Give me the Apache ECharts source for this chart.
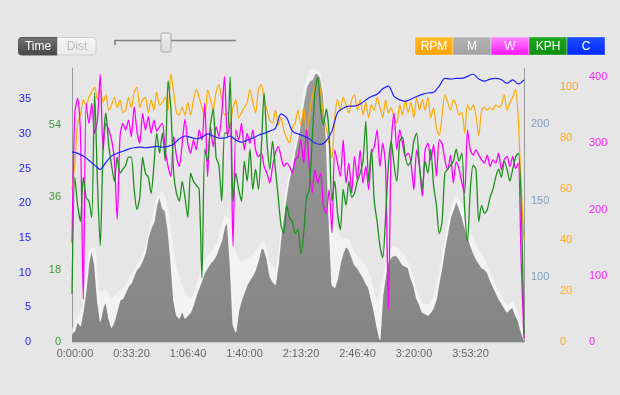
<!DOCTYPE html>
<html><head><meta charset="utf-8">
<script src="https://cdn.jsdelivr.net/npm/echarts@6/dist/echarts.min.js"></script>
<style>html,body{margin:0;padding:0;background:#e6e6e6;}#c{width:620px;height:395px;}</style>
</head><body><div id="c"></div>
<script>
// ---- data (sampled every STEP seconds; C and the light envelope every STEP_COARSE seconds) ----
const STEP = 100;
const STEP_COARSE = 200;
const legendNames = ['RPM', 'M', 'W', 'KPH', 'C'];
const xTickStep = 2000;      // 0:33:20
const xMax = 16000;

const elevation = [63,65,71,68,78,92,110,118,108,85,
 71,80,84,73,67,71,78,85,86,90,
 94,96,101,105,107,111,116,126,132,136,
 147,153,145,143,131,110,85,75,73,78,
 73,75,77,82,88,93,98,103,106,109,
 111,114,119,124,133,136,108,69,64,78,
 85,90,95,98,101,105,111,119,118,112,
 101,97,95,108,127,141,154,165,172,183,
 191,201,214,224,228,229,233,233,230,219,
 190,137,95,93,99,109,116,120,118,113,
 108,106,103,100,96,93,85,77,67,59,
 88,101,110,113,114,114,111,108,107,106,
 99,94,86,82,77,76,75,77,80,86,
 97,107,119,129,139,144,150,145,140,133,
 127,121,116,112,109,106,105,103,98,94,
 90,86,83,80,77,79,80,75,71,64,
 59];

const elevationUpper = [66,74,82,117,120,90,92,86,90,93,
 98,105,111,120,136,152,156,145,118,100,
 90,86,95,108,114,118,126,140,138,116,
 110,112,115,120,124,110,105,133,160,178,
 197,222,235,236,234,200,142,129,125,125,
 116,112,107,99,84,100,117,120,118,114,
 106,92,83,82,88,104,126,145,153,148,
 137,126,118,112,104,95,88,82,84,76,
 62];

const rpm = [60,70,86,89,95,93,96,98,100,95,
 99,94,97,91,93,96,92,95,90,91,
 96,92,98,100,92,95,96,90,95,91,
 98,93,94,96,91,105,98,90,89,92,
 89,94,89,95,99,96,92,88,99,95,
 91,98,101,95,89,90,85,92,95,88,
 90,92,94,99,94,90,99,101,95,91,
 87,86,91,85,88,83,80,78,84,86,
 91,85,92,82,89,96,100,103,98,89,
 84,78,72,88,95,91,96,93,90,95,
 97,91,95,89,94,88,93,91,96,92,
 88,95,90,92,88,86,93,89,95,90,
 94,88,96,91,95,91,96,88,92,84,
 81,89,97,94,91,95,93,89,90,82,
 93,91,93,89,81,91,92,91,92,91,
 93,92,93,97,91,94,96,99,87,60,
 40];

const watts = [150,345,368,315,65,360,330,360,315,335,
 404,290,330,320,305,275,185,310,330,320,
 335,310,355,318,300,345,320,340,315,335,
 318,325,330,290,265,250,310,280,265,300,
 336,300,285,305,290,320,305,360,250,325,
 295,325,310,345,401,310,330,145,320,305,
 330,290,315,300,320,290,280,285,265,255,
 240,265,285,295,280,265,270,265,255,275,
 280,305,270,320,265,225,260,240,255,205,
 195,230,165,290,270,250,305,240,270,225,
 280,245,290,240,265,230,285,295,320,265,
 300,265,50,300,345,290,320,300,280,285,
 270,230,290,265,220,290,300,275,298,250,
 305,300,275,260,282,240,272,262,240,225,
 320,290,282,290,282,275,270,282,265,275,
 270,285,260,275,280,265,280,262,270,120,
 5];

const kph = [12,41,34,30,41,36,35,31,62,40,
 24,48,57,49,44,40,46,42,43,44,
 46,46,38,33,36,46,42,41,37,44,
 52,47,52,45,65,58,42,37,35,40,
 36,31,42,40,39,38,16,48,45,54,
 58,46,44,35,52,52,66,35,42,38,
 35,45,40,48,38,43,38,48,62,50,
 43,50,43,36,29,27,34,31,30,27,
 28,22,27,36,38,50,62,66,58,54,
 58,52,35,40,32,28,38,34,40,36,
 37,40,42,45,55,40,48,35,30,24,
 21,31,44,50,44,40,50,51,46,44,
 45,50,52,44,38,45,42,48,39,34,
 27,30,42,43,44,45,48,45,47,33,
 25,38,44,43,30,34,32,33,36,38,
 41,43,41,45,43,40,43,46,47,35,
 2];

const cVals = [27.4,27.2,26.8,26.2,25.5,24.9,25.9,26.8,27.2,27.5,
 27.8,28.0,28.1,28.0,28.1,28.2,28.1,28.2,28.5,29.3,
 29.7,29.5,29.3,29.5,30.0,29.7,29.4,29.4,29.7,29.1,
 28.8,29.1,29.4,29.8,30.1,30.4,30.8,32.9,32.3,30.4,
 30.0,29.7,29.3,28.7,28.5,29.0,30.4,33.1,33.7,34.0,
 34.0,34.3,34.9,35.4,35.7,36.5,36.9,35.4,34.9,34.7,
 35.0,35.4,35.7,35.9,36.0,36.9,38.0,37.9,38.0,38.0,
 38.3,38.6,37.9,37.6,37.9,38.0,37.8,37.3,37.8,37.2,
 37.8];

// ---- helpers ----
const pairs = (arr, step) => arr.map((v, i) => [i * step, v]);
const hms = s => { const h = Math.floor(s / 3600), m = Math.floor((s % 3600) / 60), sec = Math.round(s % 60);
  return h + ':' + String(m).padStart(2, '0') + ':' + String(sec).padStart(2, '0'); };
const FONT = '"Liberation Sans", Arial, Helvetica, sans-serif';
function yAx(pos, offset, min, max, interval, labelStep, color, line, align, margin) {
  return {
    type: 'value', position: pos, offset: offset, min: min, max: max, interval: interval,
    axisLine: { show: line, onZero: false, lineStyle: { color: '#9a9a9a', width: 1 } },
    axisTick: { show: false }, splitLine: { show: false },
    axisLabel: { color: color, fontSize: 11, fontFamily: FONT, align: align, margin: margin,
      formatter: v => { const q = v / labelStep; return Math.abs(q - Math.round(q)) < 1e-6 ? String(Math.round(v)) : ''; } }
  };
}
const lg = (a, b) => ({ type: 'linear', x: 0, y: 0, x2: 0, y2: 1, colorStops: [{ offset: 0, color: a }, { offset: 1, color: b }] });

const legendColors = [lg('#ffbb2a', '#ffa200'), lg('#b4b4b4', '#a2a2a2'), lg('#ff8cff', '#ff10ff'), lg('#1ea81e', '#0e8e0e'), lg('#2050ff', '#0028ff')];
const graphics = [
  { type: 'rect', shape: { x: 18.5, y: 37.5, width: 39, height: 17.5, r: [3, 0, 0, 3] }, style: { fill: lg('#727272', '#454545'), stroke: '#555' } },
  { type: 'text', style: { text: 'Time', x: 38, y: 46.5, fill: '#fff', font: '12px ' + FONT, textAlign: 'center', textVerticalAlign: 'middle' } },
  { type: 'rect', shape: { x: 57.5, y: 37.5, width: 38.5, height: 17.5, r: [0, 3, 3, 0] }, style: { fill: lg('#f7f7f7', '#e9e9e9'), stroke: '#cfcfcf' } },
  { type: 'text', style: { text: 'Dist', x: 77, y: 46.5, fill: '#bbbbbb', font: '12px ' + FONT, textAlign: 'center', textVerticalAlign: 'middle' } },
  { type: 'polyline', shape: { points: [[115, 45], [115, 40.5], [236, 40.5]] }, style: { stroke: '#808080', lineWidth: 1.6, fill: null } },
  { type: 'rect', shape: { x: 161, y: 33, width: 10, height: 19, r: 2 }, style: { fill: lg('#eeeeee', '#dcdcdc'), stroke: '#a8a8a8' } }
];
legendNames.forEach((n, k) => {
  const x = 415 + k * 38;
  graphics.push({ type: 'rect', shape: { x: x, y: 37, width: 38, height: 18 }, style: { fill: legendColors[k], stroke: 'rgba(255,255,255,0.35)' } });
  graphics.push({ type: 'text', style: { text: n, x: x + 19, y: 46.5, fill: '#fff', font: '12px ' + FONT, textAlign: 'center', textVerticalAlign: 'middle' } });
});

const chart = echarts.init(document.getElementById('c'), null, { renderer: 'canvas' });
chart.setOption({
  animation: false,
  backgroundColor: '#e6e6e6',
  grid: { left: 72, right: 96, top: 68, bottom: 53 },
  graphic: graphics,
  xAxis: {
    type: 'value', min: 0, max: xMax, interval: xTickStep,
    axisLine: { show: true, lineStyle: { color: '#c4c4c4' } }, axisTick: { show: false }, splitLine: { show: false },
    axisLabel: { color: '#666', fontSize: 11, fontFamily: FONT, margin: 6, padding: [0, 0, 0, 6], showMaxLabel: false, formatter: v => hms(v) }
  },
  yAxis: [
    yAx('left', 30, 0, 39.5, 5, 5, '#1c1cf0', false, 'right', 11),        // C
    yAx('left', 0, 0, 68.2, 18, 18, '#3a9a3a', true, 'right', 11),         // KPH
    yAx('right', 0, 57.5, 236.6, 2.5, 50, '#7f9cbd', true, 'left', 7),    // M
    yAx('right', 29, 0, 107.5, 20, 20, '#ffaa11', false, 'left', 7),      // RPM
    yAx('right', 58, 0, 413.6, 100, 100, '#ff22ff', false, 'left', 7)     // W
  ],
  series: [
    { name: 'M upper', type: 'line', yAxisIndex: 2, data: pairs(elevationUpper, STEP_COARSE), showSymbol: false, smooth: 0.2,
      lineStyle: { width: 0 }, areaStyle: { color: 'rgba(248,248,248,0.9)', origin: 'start' }, z: 1 },
    { name: 'M', type: 'line', yAxisIndex: 2, data: pairs(elevation, STEP), showSymbol: false,
      lineStyle: { width: 1.2, color: 'rgba(255,255,255,0.75)' }, areaStyle: { color: lg('#9c9c9c', '#848484'), opacity: 1, origin: 'start' }, z: 2 },
    { name: 'RPM', type: 'line', yAxisIndex: 3, data: pairs(rpm, STEP), showSymbol: false, smooth: 0.25,
      lineStyle: { width: 1.2, color: '#ffaa00' }, itemStyle: { color: '#ffaa00' }, z: 3 },
    { name: 'W', type: 'line', yAxisIndex: 4, data: pairs(watts, STEP), showSymbol: false, smooth: 0.25,
      lineStyle: { width: 1.3, color: '#ff00ff' }, itemStyle: { color: '#ff00ff' }, z: 4 },
    { name: 'KPH', type: 'line', yAxisIndex: 1, data: pairs(kph, STEP), showSymbol: false, smooth: 0.25,
      lineStyle: { width: 1.3, color: '#1f8f1f' }, itemStyle: { color: '#1f8f1f' }, z: 5 },
    { name: 'C', type: 'line', yAxisIndex: 0, data: pairs(cVals, STEP_COARSE), showSymbol: false, smooth: 0.3,
      lineStyle: { width: 1.2, color: '#2020ff' }, itemStyle: { color: '#2020ff' }, z: 6 }
  ]
});
</script></body></html>
